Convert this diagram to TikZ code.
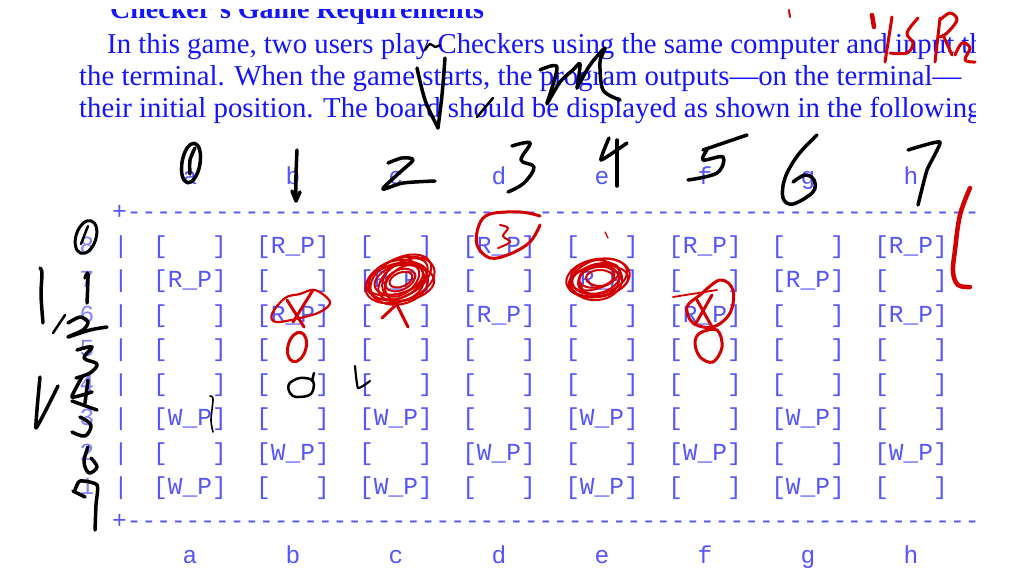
\documentclass[tikz,border=0pt]{standalone}
\usepackage{fontspec}
\setmainfont{Liberation Serif}
\setmonofont{Liberation Mono}
\definecolor{bodyblue}{RGB}{20,20,255}
\definecolor{boardblue}{RGB}{85,85,255}
\definecolor{faintblue}{RGB}{130,130,255}
\definecolor{redpen}{RGB}{210,0,0}
\tikzset{
  body/.style={anchor=base west, inner sep=0pt, text=bodyblue, font=\fontsize{28.8}{32}\selectfont},
  titletext/.style={anchor=base west, inner sep=0pt, text=bodyblue, font=\bfseries\fontsize{28}{32}\selectfont},
  mono/.style={anchor=base, inner sep=0pt, text=boardblue, font=\ttfamily\fontsize{24.5}{28}\selectfont},
  rowlab/.style={mono, text=faintblue},
  ink/.style={draw=black, line width=3.5pt, line cap=round, line join=round},
  thinink/.style={ink, line width=1.6pt},
  rink/.style={draw=redpen, line width=3pt, line cap=round, line join=round},
  rthin/.style={rink, line width=1.8pt},
}
\begin{document}
\begin{tikzpicture}[x=1pt,y=-1pt]
\useasboundingbox (0,0) rectangle (1024,586);
\clip (0,0) rectangle (1024,586);
\fill[white] (0,0) rectangle (1024,586);
% ---------- printed text ----------
\begin{scope}
\clip (0,10) rectangle (975,586);
\node[titletext] (title) at (110,19) {Checker’s Game Requirements};
\end{scope}
\begin{scope}
\clip (0,0) rectangle (975,586);
\node[body] (l1) at (107,53) {In this game, two users play Checkers using the same computer and input th};
\node[body] (l2) at (79,85) {the terminal. When the game starts, the program outputs—on the terminal—};
\node[body] (l3) at (79,117) {their initial position. The board should be displayed as shown in the following};
% column labels
\foreach \L [count=\i from 0] in {a,b,c,d,e,f,g,h}{
  \node[mono] (top\L) at (190+103*\i,184) {\L};
  \node[mono] (bot\L) at (190+103*\i,563) {\L};
}
% rules
\node[mono, anchor=base west] (toprule) at (112,219) {+\foreach \i in {1,...,58}{-}};
\node[mono, anchor=base west] (botrule) at (112,528) {+\foreach \i in {1,...,58}{-}};
% rows
\foreach \row/\kind/\pp [count=\k from 0] in {8/R/1,7/R/0,6/R/1,5/N/2,4/N/2,3/W/0,2/W/1,1/W/0}{
  \pgfmathsetmacro\yy{253+34.57*\k}
  \node[rowlab] (rl\row) at (87,\yy) {\row};
  \node[mono] (bar\row) at (121,\yy) {|};
  \foreach \c in {0,...,7}{
    \pgfmathtruncatemacro\hasp{mod(\c,2)==\pp ? 1 : 0}
    \ifnum\hasp=1
      \node[mono] (cell\row\c) at (190+103*\c,\yy) {[\kind\_P]};
    \else
      \node[mono] (cell\row\c) at (190+103*\c,\yy) {[\phantom{R\_P}]};
    \fi
  }
}
\end{scope}
% ---------- black handwriting ----------
% column digits
\draw[ink, rotate around={-10:(191,163)}] (191,163) ellipse [x radius=9pt, y radius=20pt];
\draw[ink] plot[smooth] coordinates {(195,148) (190,160) (190,174)};
\draw[ink] plot[smooth] coordinates {(297,150) (296,175) (296,200)};
\draw[ink] (292,191) -- (296,201) -- (300,192);
\draw[ink] plot[smooth, tension=0.5] coordinates {(388,163) (402,158) (413,160) (398,174) (383,189) (403,183) (435,181)};
\draw[ink] plot[smooth, tension=0.6] coordinates {(512,146) (530,143) (521,160) (534,167) (524,183) (508,192)};
\draw[ink] plot[smooth, tension=0.3] coordinates {(609,138) (601,160) (627,143)};
\draw[ink] (617,140) -- (617,186);
\draw[ink] (703,150) -- (747,135);
\draw[ink] plot[smooth, tension=0.6] coordinates {(707,150) (703,160) (723,157) (717,173) (688,180)};
\draw[ink] plot[smooth, tension=0.6] coordinates {(817,135) (798,155) (785,178) (783,198) (793,204) (813,192) (814,180) (805,175) (793,182)};
\draw[ink] plot[smooth, tension=0.3] coordinates {(908,150) (940,142) (927,170) (918,205)};
% row digits on the left
\draw[ink, line width=3pt, rotate around={-18:(86,237)}] (86,237) ellipse [x radius=10pt, y radius=17pt];
\draw[ink, line width=2.5pt] (81,244) -- (88,226);
\draw[ink] plot[smooth] coordinates {(85,278) (88,274) (87,303)};
\draw[ink] plot[smooth] coordinates {(40,268) (42,273) (41,295) (43,323)};
\draw[ink, line width=2.5pt] (53,333) -- (65,315);
\draw[ink] plot[smooth, tension=0.5] coordinates {(68,323) (80,317) (88,322) (83,330) (68,337) (90,330) (107,327)};
\draw[ink] plot[smooth, tension=0.6] coordinates {(77,350) (92,347) (84,358) (97,364) (90,373) (76,378)};
\draw[ink] plot[smooth, tension=0.2] coordinates {(40,377) (36,428) (58,386)};
\draw[ink] plot[smooth, tension=0.3] coordinates {(82,377) (72,397) (92,392)};
\draw[ink] (88,380) -- (85,403);
\draw[ink] (72,401) -- (97,410);
\draw[ink] plot[smooth, tension=0.6] coordinates {(80,417) (91,425) (85,436) (72,432)};
\draw[ink] plot[smooth, tension=0.6] coordinates {(88,447) (84,462) (89,473) (97,467) (91,458)};
\draw[ink] plot[smooth, tension=0.4] coordinates {(75,490) (80,481) (97,485) (96,505) (95,530)};
\draw[ink] (73,491) -- (85,497);
% marks on the board
\draw[ink, line width=2.5pt] plot[smooth cycle, tension=0.6] coordinates {(290,393) (289,384) (300,378) (313,381) (311,394) (297,397)};
\draw[ink, line width=2.5pt] (312,381) -- (314,373);
\draw[ink, line width=2.2pt] plot[smooth, tension=0.3] coordinates {(355,366) (358,388) (370,381)};
\draw[thinink] plot[smooth] coordinates {(210,396) (213,399) (211,420) (213,432)};
% V and m in the paragraph
\draw[ink, line width=2.3pt] plot[smooth, tension=0.6] coordinates {(425,50) (430,44) (435,47) (440,45)};
\draw[ink] plot[smooth, tension=0.5] coordinates {(417,68) (425,100) (438,128)};
\draw[ink] plot[smooth, tension=0.5] coordinates {(438,128) (442,95) (445,58)};
\draw[ink, line width=2.5pt] (477,117) -- (493,98);
\draw[ink] plot[smooth, tension=0.5] coordinates {(540,70) (557,67) (547,103)};
\draw[ink] plot[smooth, tension=0.5] coordinates {(547,104) (560,82) (573,70) (580,64) (577,88)};
\draw[ink] plot[smooth, tension=0.5] coordinates {(577,88) (590,65) (605,48) (600,62) (603,90) (620,100)};
% ---------- red handwriting ----------
\draw[rink, line width=2pt] (789,10) -- (790,17);
\draw[rink, line width=4.5pt] (872,15) -- (874,27);
\draw[rink] (892,17) -- (885,62);
\draw[rink] plot[smooth, tension=0.6] coordinates {(918,18) (907,33) (913,43) (907,53) (890,53)};
\draw[rink] (940,18) -- (935,62);
\draw[rink] plot[smooth, tension=0.6] coordinates {(940,20) (950,13) (957,20) (947,33) (940,37)};
\draw[rink] (943,35) -- (952,55);
\draw[rink] plot[smooth, tension=0.6] coordinates {(955,55) (962,43) (970,48) (965,60) (975,62)};
% circle around d8
\draw[rink] plot[smooth, tension=0.6] coordinates {(540,216) (520,212) (490,214) (479,225) (477,245) (490,258) (510,254) (530,242) (540,225)};
\draw[rink, line width=2pt] plot[smooth, tension=0.6] coordinates {(500,225) (508,228) (503,236) (510,242) (498,248)};
% scribble on c7
\foreach \a/\rx/\ry/\dx/\dy in {20/36/21/0/0, 28/33/19/2/-2, 12/30/22/-2/2, 35/28/16/3/1, 18/25/14/-1/-1, 40/20/12/1/2, 5/34/18/0/3, 25/16/10/0/0, 15/31/15/-3/-2, 30/22/18/2/3, 22/12/7/1/0}{
  \draw[rink, line width=2pt, rotate around={\a:(400,280)}] (400+\dx,280+\dy) ellipse [x radius=\rx pt, y radius=\ry pt];
}
\draw[rink] (382,318) -- (398,303);
\draw[rink] (396,303) -- (408,327);
% b6 and b5
\draw[rink, line width=2.2pt] plot[smooth cycle, tension=0.6] coordinates {(272,314) (285,298) (300,294) (315,290) (330,302) (320,312) (300,318) (276,322)};
\draw[rink] (287,300) -- (304,327);
\draw[rink] (313,290) -- (293,322);
\draw[rink, rotate around={-15:(297,347)}] (297,347) ellipse [x radius=9pt, y radius=15pt];
% scribble on e7
\foreach \a/\rx/\ry/\dx/\dy in {10/32/19/0/0, 15/28/17/2/-1, 5/26/20/-2/2, 20/22/14/1/1, 8/30/15/0/3, 12/18/10/-1/-1, 0/14/8/2/0, 18/25/12/-2/-2, 3/20/16/1/2}{
  \draw[rink, line width=2pt, rotate around={\a:(598,278)}] (598+\dx,278+\dy) ellipse [x radius=\rx pt, y radius=\ry pt];
}
\draw[rthin, line width=1.2pt] (605,232) -- (608,238);
% 8 on f6 / f5
\draw[rthin] (673,297) -- (717,290);
\draw[rink] plot[smooth cycle, tension=0.6] coordinates {(687,307) (700,295) (720,280) (733,290) (730,313) (713,327) (693,323)};
\draw[rink] plot[smooth cycle, tension=0.6] coordinates {(700,333) (717,330) (722,347) (713,362) (700,357) (695,343)};
\draw[rink] (697,300) -- (712,327);
\draw[rink] (712,295) -- (695,325);
% bracket at right
\draw[rink, line width=4.5pt] plot[smooth, tension=0.6] coordinates {(970,188) (960,215) (955,250) (953,272) (958,285) (970,287)};
\end{tikzpicture}
\end{document}
